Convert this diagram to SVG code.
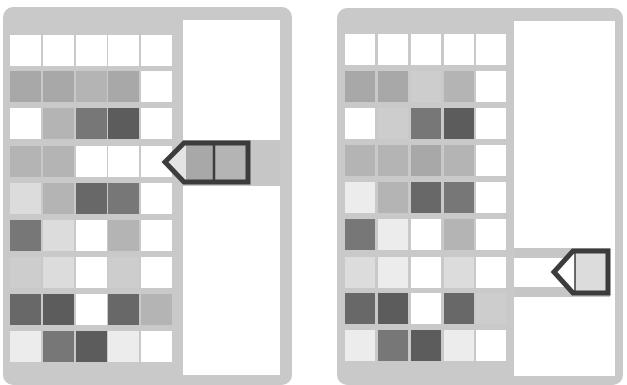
<svg xmlns="http://www.w3.org/2000/svg" width="627" height="385" viewBox="0 0 627 385">
<style>
.panel{fill:#c9c9c9}
.well{fill:#ffffff}
.band{fill:#c6c6c6}
.w{fill:#ffffff}
.l1{fill:#ececec}
.l2{fill:#dcdcdc}
.l3{fill:#cdcdcd}
.m1{fill:#b4b4b4}
.m2{fill:#a8a8a8}
.d1{fill:#777777}
.d2{fill:#686868}
.d3{fill:#5c5c5c}
.tag{fill:none;stroke:#3c3c3c;stroke-width:5;stroke-linejoin:miter}
.div{stroke:#3c3c3c}
</style>
<rect width="627" height="385" fill="#ffffff"/>

<g id="panel-left">
  <rect class="panel" x="3" y="7" width="289" height="378" rx="10"/>
  <rect class="well" x="183" y="20" width="97" height="355"/>
  <rect class="band" x="183" y="140" width="97" height="46"/>
  <g id="grid-left">
    <rect class="w" x="10" y="35" width="31" height="31"/><rect class="w" x="43" y="35" width="31" height="31"/><rect class="w" x="76" y="35" width="31" height="31"/><rect class="w" x="108" y="35" width="31" height="31"/><rect class="w" x="141" y="35" width="31" height="31"/>
    <rect class="m2" x="10" y="71" width="31" height="31"/><rect class="m2" x="43" y="71" width="31" height="31"/><rect class="m1" x="76" y="71" width="31" height="31"/><rect class="m2" x="108" y="71" width="31" height="31"/><rect class="w" x="141" y="71" width="31" height="31"/>
    <rect class="w" x="10" y="108" width="31" height="31"/><rect class="m1" x="43" y="108" width="31" height="31"/><rect class="d1" x="76" y="108" width="31" height="31"/><rect class="d3" x="108" y="108" width="31" height="31"/><rect class="w" x="141" y="108" width="31" height="31"/>
    <rect class="m1" x="10" y="146" width="31" height="31"/><rect class="m1" x="43" y="146" width="31" height="31"/><rect class="w" x="76" y="146" width="31" height="31"/><rect class="w" x="108" y="146" width="31" height="31"/><rect class="w" x="141" y="146" width="31" height="31"/>
    <rect class="l2" x="10" y="183" width="31" height="31"/><rect class="m1" x="43" y="183" width="31" height="31"/><rect class="d2" x="76" y="183" width="31" height="31"/><rect class="d1" x="108" y="183" width="31" height="31"/><rect class="w" x="141" y="183" width="31" height="31"/>
    <rect class="d1" x="10" y="220" width="31" height="31"/><rect class="l2" x="43" y="220" width="31" height="31"/><rect class="w" x="76" y="220" width="31" height="31"/><rect class="m1" x="108" y="220" width="31" height="31"/><rect class="w" x="141" y="220" width="31" height="31"/>
    <rect class="l3" x="10" y="257" width="31" height="31"/><rect class="l2" x="43" y="257" width="31" height="31"/><rect class="w" x="76" y="257" width="31" height="31"/><rect class="l3" x="108" y="257" width="31" height="31"/><rect class="w" x="141" y="257" width="31" height="31"/>
    <rect class="d2" x="10" y="294" width="31" height="31"/><rect class="d3" x="43" y="294" width="31" height="31"/><rect class="w" x="76" y="294" width="31" height="31"/><rect class="d2" x="108" y="294" width="31" height="31"/><rect class="m1" x="141" y="294" width="31" height="31"/>
    <rect class="l1" x="10" y="331" width="31" height="31"/><rect class="d1" x="43" y="331" width="31" height="31"/><rect class="d3" x="76" y="331" width="31" height="31"/><rect class="l1" x="108" y="331" width="31" height="31"/><rect class="w" x="141" y="331" width="31" height="31"/>
  </g>
  <g id="tag-left">
    <polygon points="165,162 184,143 248,143 248,182 184,182" fill="#e4e4e4"/>
    <rect class="m2" x="186" y="145" width="28" height="36"/>
    <rect class="m1" x="214" y="145" width="32" height="36"/>
    <line class="div" x1="214" y1="144" x2="214" y2="181" stroke-width="2.5"/>
    <polygon class="tag" points="165,162 184,143 248,143 248,182 184,182"/>
  </g>
</g>

<g id="panel-right">
  <rect class="panel" x="337" y="8" width="286" height="377" rx="10"/>
  <rect class="well" x="514" y="21" width="101" height="355"/>
  <rect class="band" x="514" y="248" width="96" height="10"/>
  <rect class="band" x="514" y="287" width="96" height="10"/>
  <g id="grid-right">
    <rect class="w" x="345" y="34" width="30" height="31"/><rect class="w" x="378" y="34" width="30" height="31"/><rect class="w" x="411" y="34" width="30" height="31"/><rect class="w" x="444" y="34" width="30" height="31"/><rect class="w" x="476" y="34" width="30" height="31"/>
    <rect class="m2" x="345" y="71" width="30" height="31"/><rect class="m2" x="378" y="71" width="30" height="31"/><rect class="l3" x="411" y="71" width="30" height="31"/><rect class="m1" x="444" y="71" width="30" height="31"/><rect class="w" x="476" y="71" width="30" height="31"/>
    <rect class="w" x="345" y="108" width="30" height="31"/><rect class="l3" x="378" y="108" width="30" height="31"/><rect class="d1" x="411" y="108" width="30" height="31"/><rect class="d3" x="444" y="108" width="30" height="31"/><rect class="w" x="476" y="108" width="30" height="31"/>
    <rect class="m1" x="345" y="145" width="30" height="31"/><rect class="m1" x="378" y="145" width="30" height="31"/><rect class="m2" x="411" y="145" width="30" height="31"/><rect class="m1" x="444" y="145" width="30" height="31"/><rect class="w" x="476" y="145" width="30" height="31"/>
    <rect class="l1" x="345" y="182" width="30" height="31"/><rect class="m1" x="378" y="182" width="30" height="31"/><rect class="d2" x="411" y="182" width="30" height="31"/><rect class="d1" x="444" y="182" width="30" height="31"/><rect class="w" x="476" y="182" width="30" height="31"/>
    <rect class="d1" x="345" y="219" width="30" height="31"/><rect class="l1" x="378" y="219" width="30" height="31"/><rect class="w" x="411" y="219" width="30" height="31"/><rect class="m1" x="444" y="219" width="30" height="31"/><rect class="w" x="476" y="219" width="30" height="31"/>
    <rect class="l2" x="345" y="257" width="30" height="31"/><rect class="l1" x="378" y="257" width="30" height="31"/><rect class="w" x="411" y="257" width="30" height="31"/><rect class="l2" x="444" y="257" width="30" height="31"/><rect class="w" x="476" y="257" width="30" height="31"/>
    <rect class="d2" x="345" y="293" width="30" height="31"/><rect class="d3" x="378" y="293" width="30" height="31"/><rect class="w" x="411" y="293" width="30" height="31"/><rect class="d2" x="444" y="293" width="30" height="31"/><rect class="l3" x="476" y="293" width="30" height="31"/>
    <rect class="l1" x="345" y="330" width="30" height="31"/><rect class="d1" x="378" y="330" width="30" height="31"/><rect class="d3" x="411" y="330" width="30" height="31"/><rect class="l1" x="444" y="330" width="30" height="31"/><rect class="w" x="476" y="330" width="30" height="31"/>
  </g>
  <g id="tag-right">
    <polygon points="554,272 573,251 608,251 608,293 573,293" fill="#ffffff"/>
    <rect class="l2" x="575" y="253" width="31" height="38"/>
    <line class="div" x1="575" y1="252" x2="575" y2="292" stroke-width="1.5"/>
    <polygon class="tag" points="554,272 573,251 608,251 608,293 573,293"/>
  </g>
</g>
</svg>
